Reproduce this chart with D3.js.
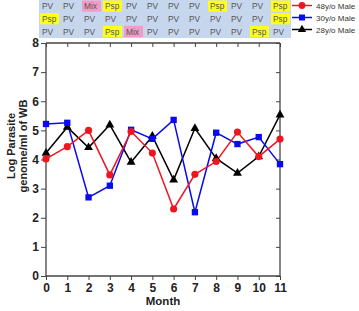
<!DOCTYPE html>
<html><head><meta charset="utf-8">
<script src="https://cdn.jsdelivr.net/npm/d3@7"></script>
<style>body{margin:0;background:#fff}svg{display:block}</style>
</head><body>
<svg id="c" width="359" height="311"></svg>
<script>
const months = [0,1,2,3,4,5,6,7,8,9,10,11];
const yTicks = [0,1,2,3,4,5,6,7,8];
const seriesNames = ["48y/o Male","30y/o Male","28y/o Male"];
const red48 = [4.02,4.44,5.0,3.47,4.96,4.22,2.30,3.49,3.93,4.94,4.1,4.70];
const blue30 = [5.22,5.26,2.70,3.10,5.02,4.71,5.36,2.19,4.92,4.53,4.77,3.84];
const black28 = [4.22,5.11,4.41,5.19,3.91,4.80,3.30,5.07,4.04,3.53,4.1,5.53];
const species48 = ["PV","PV","Mix","Psp","PV","PV","PV","PV","Psp","PV","PV","Psp"];
const species30 = ["Psp","PV","PV","PV","PV","PV","PV","PV","PV","PV","PV","Psp"];
const species28 = ["PV","PV","PV","Psp","Mix","PV","PV","PV","PV","PV","Psp","PV"];

const svg = d3.select("#c");
const x = d3.scaleLinear().domain([0,11]).range([46,280]);
const y = d3.scaleLinear().domain([0,8]).range([276,43]);
const axisCol = "#444";
const font = "Liberation Sans, Arial, sans-serif";

// table
const table = [species48, species30, species28];
const col = d3.scaleBand().domain(months).range([39,291]).paddingInner(0);
const row = d3.scaleBand().domain([0,1,2]).range([0,38]);
svg.append("rect").attr("x",39).attr("y",0).attr("width",252).attr("height",38).attr("fill","#c6d6ec");
const hl = {Mix:"#f39ac6", Psp:"#ffff1a"};
table.forEach((r,ri)=>{
  r.forEach((s,ci)=>{
    if(hl[s]) svg.append("rect").attr("x",col(ci)+1).attr("y",row(ri)+0.5)
      .attr("width",col.bandwidth()-2).attr("height",row.bandwidth()-1.5).attr("fill",hl[s]);
    svg.append("text").attr("x",col(ci)+3).attr("y",row(ri)+row.bandwidth()/2+3)
      .attr("font-family",font).attr("font-size",8.3)
      .attr("fill","#555").text(s);
  });
});

// axes
const gx = svg.append("g").attr("transform","translate(0,276)")
  .call(d3.axisBottom(x).tickValues(months).tickSize(4).tickPadding(3).tickFormat(d3.format("d")));
const gy = svg.append("g").attr("transform","translate(46,0)")
  .call(d3.axisLeft(y).tickValues(yTicks).tickSize(5).tickPadding(2).tickFormat(d3.format("d")));
const gt = svg.append("g").attr("transform","translate(0,43)")
  .call(d3.axisBottom(x).tickValues(months).tickSize(4).tickFormat(""));
const gr = svg.append("g").attr("transform","translate(280,0)")
  .call(d3.axisLeft(y).tickValues(yTicks).tickSize(4).tickFormat(""));
[gx,gy,gt,gr].forEach(g=>{
  g.selectAll("path").attr("stroke",axisCol).attr("stroke-width",1.3);
  g.selectAll("line").attr("stroke",axisCol).attr("stroke-width",1);
  g.selectAll("text").attr("font-family",font)
    .attr("font-size",12).attr("font-weight","bold").attr("fill","#222");
});
gt.select("path").attr("d","M46,0H280");
gr.select("path").attr("d","M0,43V276");
gx.select("path").attr("d","M46,0H280");
gy.select("path").attr("d","M0,43V276");

// labels
svg.append("text").attr("x",163).attr("y",305).attr("text-anchor","middle")
  .attr("font-family",font).attr("font-size",11.5)
  .attr("font-weight","bold").attr("fill","#222").text("Month");
const yl = svg.append("text").attr("transform","translate(15,146) rotate(-90)")
  .attr("text-anchor","middle").attr("font-family",font)
  .attr("font-size",11).attr("font-weight","bold").attr("fill","#222");
yl.append("tspan").attr("x",0).attr("dy",0).text("Log Parasite");
yl.append("tspan").attr("x",0).attr("dy",12).text("genome/ml of WB");

// series
const series = [
  {name:seriesNames[0], vals:red48, color:"#f0141e", shape:d3.symbolCircle, size:40},
  {name:seriesNames[1], vals:blue30, color:"#0a0af0", shape:d3.symbolSquare, size:40},
  {name:seriesNames[2], vals:black28, color:"#000", shape:d3.symbolTriangle, size:34}
];
const line = d3.line().x((d,i)=>x(months[i])).y(d=>y(d));
series.slice().reverse().forEach(s=>{
  svg.append("path").attr("d",line(s.vals)).attr("fill","none")
    .attr("stroke",s.color).attr("stroke-width",1.5);
});
series.slice().reverse().forEach(s=>{
  svg.selectAll(null).data(s.vals).enter().append("path")
    .attr("d",d3.symbol().type(s.shape).size(s.size))
    .attr("transform",(d,i)=>`translate(${x(months[i])},${y(d)})`)
    .attr("fill",s.color);
});

// legend
const ly = d3.scaleBand().domain(seriesNames).range([0,36]);
series.forEach(s=>{
  const yy = ly(s.name)+ly.bandwidth()/2-0.5;
  svg.append("line").attr("x1",292).attr("x2",312).attr("y1",yy).attr("y2",yy)
    .attr("stroke",s.color).attr("stroke-width",1.5);
  svg.append("path").attr("d",d3.symbol().type(s.shape).size(s.size-4))
    .attr("transform",`translate(302,${yy})`).attr("fill",s.color);
  svg.append("text").attr("x",316).attr("y",yy+3).attr("font-family",font)
    .attr("font-size",8).attr("fill","#333").text(s.name);
});
</script>
</body></html>
